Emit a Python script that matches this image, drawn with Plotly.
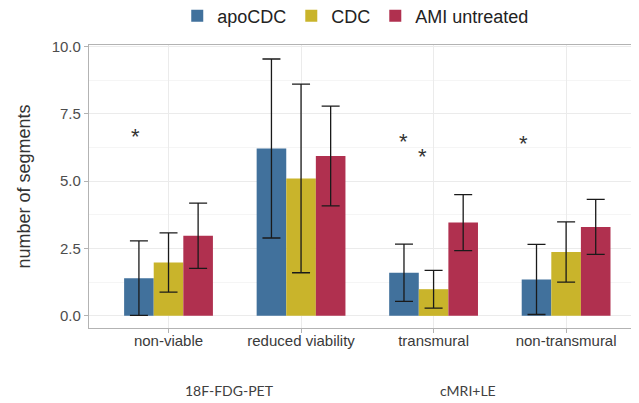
import plotly.graph_objects as go

categories = ["non-viable", "reduced viability", "transmural", "non-transmural"]
series_names = ["apoCDC", "CDC", "AMI untreated"]
apo_vals = [1.40, 6.21, 1.60, 1.35]
apo_err = [1.38, 3.32, 1.06, 1.30]
cdc_vals = [1.98, 5.10, 0.99, 2.37]
cdc_err = [1.10, 3.50, 0.70, 1.12]
ami_vals = [2.97, 5.93, 3.46, 3.30]
ami_err = [1.21, 1.85, 1.04, 1.02]
colors = ["#41719C", "#C9B42B", "#B0304F"]

star_x = [-0.25, 1.77, 1.92, 2.68]
star_y = [6.8, 6.62, 6.08, 6.55]

group_labels = ["18F-FDG-PET", "cMRI+LE"]
group_label_x = [0.255, 0.689]

fig = go.Figure()
for name, vals, errs, col in zip(series_names, [apo_vals, cdc_vals, ami_vals],
                                 [apo_err, cdc_err, ami_err], colors):
    fig.add_trace(go.Bar(
        x=categories, y=vals, name=name,
        marker=dict(color=col, line=dict(width=0)),
        error_y=dict(type="data", array=errs, visible=True, color="#1a1a1a",
                     thickness=1.3, width=9),
    ))

for sx, sy in zip(star_x, star_y):
    fig.add_annotation(x=sx, y=sy, xref="x", yref="y", text="*", showarrow=False,
                       font=dict(family="Liberation Sans, Arial", size=22, color="#333333"),
                       yshift=-4)

for lab, lx in zip(group_labels, group_label_x):
    fig.add_annotation(x=lx, y=-0.22, xref="paper", yref="paper", text=lab,
                       showarrow=False, xanchor="center", yanchor="middle",
                       font=dict(family="Lato, Open Sans", size=14, color="#404040"))

# page body has an 8px margin: figure is sized to fit inside the window
fig.update_layout(
    width=631, height=395,
    margin=dict(l=81, r=0, t=37, b=75, autoexpand=False),
    paper_bgcolor="white", plot_bgcolor="white",
    barmode="group", bargap=0.33, bargroupgap=0,
    font=dict(family="Liberation Sans, Arial", color="#333333"),
    showlegend=True,
    legend=dict(orientation="h", x=0.485, xanchor="center", y=1.102, yanchor="middle",
                font=dict(size=18, color="#222222"), itemwidth=30,
                bgcolor="rgba(0,0,0,0)"),
    xaxis=dict(
        range=[-0.6, 3.55], showgrid=True, gridcolor="#EBEBEB", gridwidth=1,
        showline=True, linecolor="#B3B3B3", linewidth=1.2, mirror=True,
        ticks="outside", ticklen=4, tickcolor="#B3B3B3",
        tickfont=dict(size=15, color="#3A3A3A"), ticklabelstandoff=-5,
    ),
    yaxis=dict(
        range=[-0.45, 10.05], tickvals=[0, 2.5, 5, 7.5, 10],
        ticktext=["0.0", "2.5", "5.0", "7.5", "10.0"],
        showgrid=True, gridcolor="#EBEBEB", gridwidth=1,
        minor=dict(tickvals=[1.25, 3.75, 6.25, 8.75], showgrid=True, gridcolor="#F5F5F5"),
        zeroline=False,
        showline=True, linecolor="#B3B3B3", linewidth=1.2,
        ticks="outside", ticklen=4, tickcolor="#B3B3B3",
        tickfont=dict(size=15, color="#4D4D4D"),
        title=dict(text="number of segments", font=dict(size=18, color="#333333"), standoff=16),
    ),
)

fig.write_html("out.html")
